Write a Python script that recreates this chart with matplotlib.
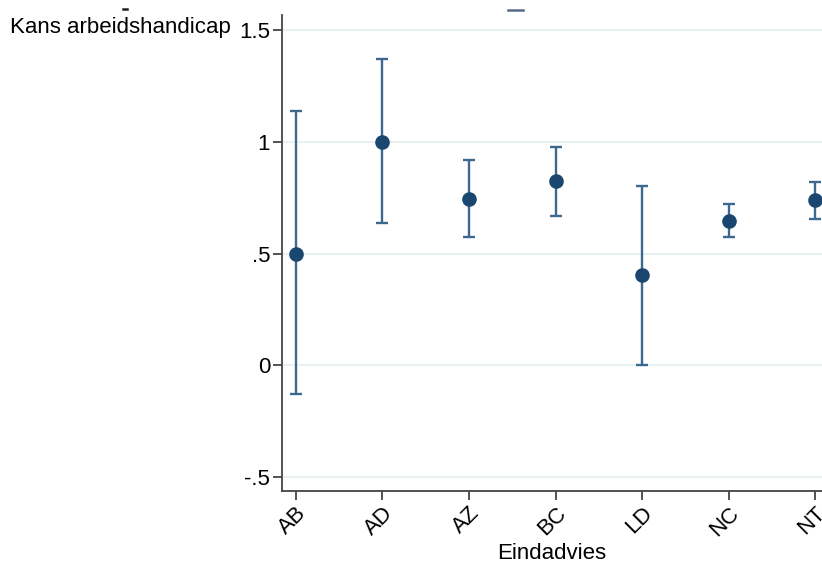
import matplotlib.pyplot as plt
import matplotlib.lines as mlines
import numpy as np

plt.rcParams['font.family'] = ['Liberation Sans', 'DejaVu Sans']

# data
categories = ['AB', 'AD', 'AZ', 'BC', 'LD', 'NC', 'NT']
estimate = [0.50, 1.00, 0.745, 0.826, 0.406, 0.647, 0.741]
upper = [1.138, 1.37, 0.92, 0.978, 0.804, 0.723, 0.821]
lower = [-0.13, 0.638, 0.576, 0.670, 0.0, 0.576, 0.656]
yticks = [-0.5, 0, 0.5, 1, 1.5]
ytick_labels = ['-.5', '0', '.5', '1', '1.5']

x = np.arange(1, len(categories) + 1)
est = np.array(estimate)
err = [est - np.array(lower), np.array(upper) - est]

fig = plt.figure(figsize=(8.22, 5.63), dpi=100, facecolor='white')
ax = fig.add_axes([0.343, 0.128, 0.657, 0.845])

# grid
for yv in yticks:
    ax.axhline(yv, color='#e4eef0', linewidth=1.2, zorder=0)

ax.errorbar(x, est, yerr=err, fmt='none', ecolor='#3d6890', elinewidth=1.7,
            capsize=4, capthick=1.7, zorder=2)
ax.plot(x, est, 'o', color='#1a476f', markersize=9.5, zorder=3)

ax.set_xlim(0.838, 7.08)
ax.set_ylim(-0.5625, 1.567)
ax.set_xticks(x)
ax.set_xticklabels(categories, rotation=45, ha='right', va='top',
                   rotation_mode='anchor', fontsize=16)
ax.set_yticks(yticks)
ax.set_yticklabels(ytick_labels, fontsize=16)

for s in ['top', 'right']:
    ax.spines[s].set_visible(False)
for s in ['left', 'bottom']:
    ax.spines[s].set_color('#444444')
    ax.spines[s].set_linewidth(1.3)
ax.tick_params(axis='both', length=6.5, width=1.3, color='#444444', labelcolor='black', pad=2)

ax.set_xlabel('Eindadvies', fontsize=16, labelpad=2)
fig.text(0.012, 0.952, 'Kans arbeidshandicap', fontsize=16, ha='left', va='center')

# clipped title fragments at the top edge
fig.add_artist(mlines.Line2D([0.618, 0.636], [0.982, 0.982], color='#5a6a8a', linewidth=1.8))
fig.add_artist(mlines.Line2D([0.150, 0.154], [0.984, 0.984], color='#222222', linewidth=1.8))

fig.savefig('out.png', dpi=100)
